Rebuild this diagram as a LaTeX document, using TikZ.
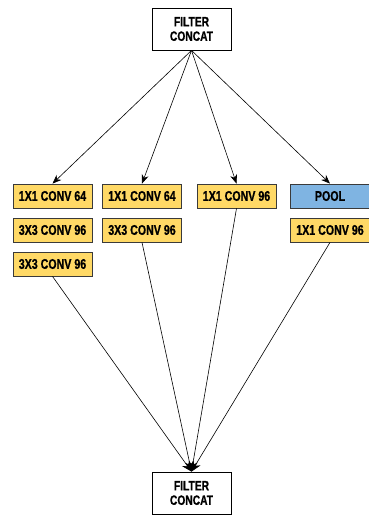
\documentclass[tikz,border=0pt]{standalone}
\usepackage{fontspec}
\setmainfont{Liberation Sans}[FakeStretch=0.76,BoldFeatures={FakeBold=0.8}]
\usetikzlibrary{arrows.meta}
\definecolor{boxyellow}{HTML}{FFD966}
\definecolor{boxblue}{HTML}{7FB4E2}
\definecolor{edge}{HTML}{3A3A3A}
\begin{document}
\begin{tikzpicture}[x=1pt,y=-1pt,
  layer/.style={draw=edge,line width=0.8pt,fill=boxyellow,minimum width=79pt,minimum height=24pt,inner sep=0pt,font=\fontsize{14}{16}\selectfont\bfseries},
  pool/.style={layer,fill=boxblue},
  concat/.style={draw=black,line width=0.8pt,fill=white,minimum width=79pt,minimum height=42pt,inner sep=0pt,align=center,font=\fontsize{13.5}{14.5}\selectfont\bfseries},
  conn/.style={draw=black,line width=0.6pt,-{Stealth[length=9pt,width=7pt]}},
  connin/.style={draw=black,line width=0.6pt,-{Stealth[length=10pt,width=9pt]}}]
\useasboundingbox (0,0) rectangle (368,515);
\node[concat] (top) at (191.5,29) {FILTER\\CONCAT};
\node[concat] (bot) at (191.5,493) {FILTER\\CONCAT};
\node[layer] (a1) at (52.5,196) {1X1 CONV 64};
\node[layer] (a2) at (52.5,230) {3X3 CONV 96};
\node[layer] (a3) at (52.5,264) {3X3 CONV 96};
\node[layer] (b1) at (142,196) {1X1 CONV 64};
\node[layer] (b2) at (142,230) {3X3 CONV 96};
\node[layer] (c1) at (236.5,196) {1X1 CONV 96};
\node[pool] (d1) at (330,196) {POOL};
\node[layer] (d2) at (330,230) {1X1 CONV 96};
\draw[conn] (top.south) -- (a1.north);
\draw[conn] (top.south) -- (b1.north);
\draw[conn] (top.south) -- (c1.north);
\draw[conn] (top.south) -- (d1.north);
\draw[connin] (a3.south) -- (bot.north);
\draw[connin] (b2.south) -- (bot.north);
\draw[connin] (c1.south) -- (bot.north);
\draw[connin] (d2.south) -- (bot.north);
\end{tikzpicture}
\end{document}
